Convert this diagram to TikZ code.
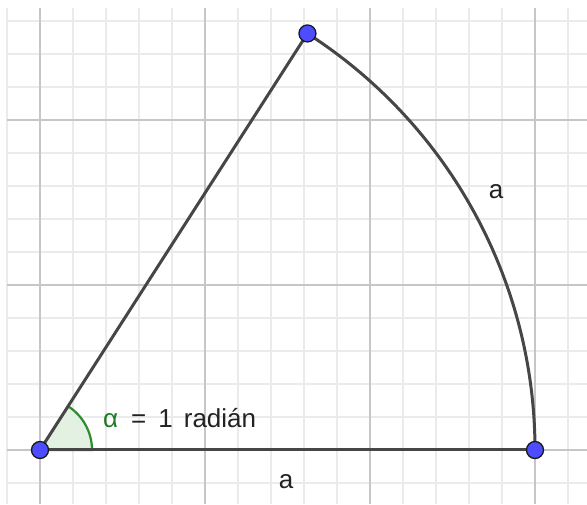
\documentclass[tikz,border=0pt]{standalone}
\usepackage{fontspec}
\setmainfont{Liberation Sans}
\definecolor{minorgrid}{HTML}{EBEBEB}
\definecolor{majorgrid}{HTML}{C6C6C6}
\definecolor{segcol}{HTML}{464646}
\definecolor{ptblue}{HTML}{4D4DFF}
\definecolor{ptedge}{HTML}{1A1A1A}
\definecolor{anggreen}{HTML}{2E8B2E}
\definecolor{angfill}{HTML}{E3F1E3}
\definecolor{alphagreen}{HTML}{1F7A1F}
\definecolor{textcol}{HTML}{222222}
\tikzset{
  pt/.style={circle, fill=ptblue, draw=ptedge, line width=1.3pt, inner sep=0pt, minimum size=17pt},
  seg/.style={draw=segcol, line width=3pt},
  lab/.style={text=textcol, font=\fontsize{26}{31}\selectfont, inner sep=0pt},
  angmark/.style={fill=angfill, draw=anggreen, line width=2.2pt},
}
\begin{document}
\begin{tikzpicture}[x=1pt,y=1pt]
\useasboundingbox (0,0) rectangle (587,504);
\fill[white] (0,0) rectangle (587,504);
% minor grid
\foreach \x in {7,40,...,568} \draw[minorgrid, line width=1.2pt] (\x,0) -- (\x,496);
\foreach \y in {21,54,...,483} \draw[minorgrid, line width=1.2pt] (7,\y) -- (587,\y);
% major grid
\foreach \x in {40,205,370,535} \draw[majorgrid, line width=1.6pt] (\x,0) -- (\x,496);
\foreach \y in {54,219,384} \draw[majorgrid, line width=1.6pt] (7,\y) -- (587,\y);
% points
\coordinate (A) at (40,54);
\coordinate (B) at (535,54);
\coordinate (C) at (307.45,470.53);
% angle sector
\draw[angmark] (A) -- ++(52,0) arc[start angle=0, end angle=57.2958, radius=52] -- cycle;
% segments and arc
\draw[seg] (A) -- (B);
\draw[seg] (A) -- (C);
\draw[seg] (B) arc[start angle=0, end angle=57.2958, radius=495];
% point markers
\node[pt] (pA) at (A) {};
\node[pt] (pB) at (B) {};
\node[pt] (pC) at (C) {};
% labels
\node[lab] (la) at (286,22) {a};
\node[lab] (lb) at (496,312) {a};
\node[lab, anchor=base west] (lalpha) at (103,77) {\textcolor{alphagreen}{α}\hspace{13pt}=\hspace{12pt}1\hspace{11pt}radián};
\end{tikzpicture}
\end{document}
